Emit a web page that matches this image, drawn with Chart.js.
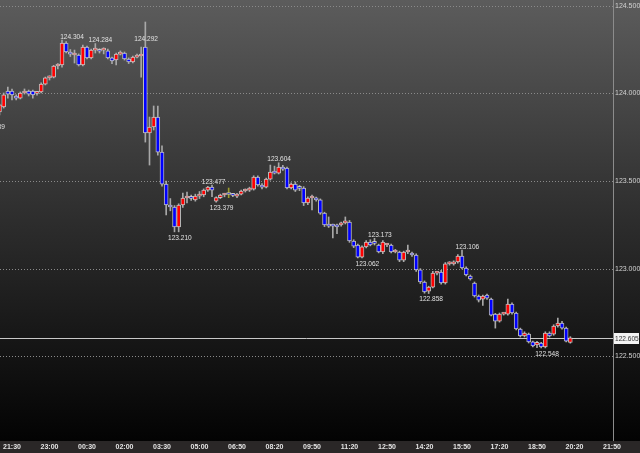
<!DOCTYPE html>
<html>
<head>
<meta charset="utf-8">
<script src="https://cdn.jsdelivr.net/npm/chart.js@4.4.0/dist/chart.umd.min.js"></script>
<style>
  html, body { margin: 0; padding: 0; background: #000; }
</style>
</head>
<body>
<canvas id="chart" width="640" height="453"></canvas>
<script>
// x axis labels, one every 9 bars (10 minute candles)
const timeLabels = ['21:30', '23:00', '00:30', '02:00', '03:30', '05:00', '06:50', '08:20', '09:50',
  '11:20', '12:50', '14:20', '15:50', '17:20', '18:50', '20:20', '21:50'];
const labelEvery = 9;
const firstBar = -5; // index of the first candle below

const opens = [
  123.900, 123.860, 123.894, 123.922, 124.013, 124.013, 123.985, 123.973, 124.002, 124.013,
  124.013, 124.000, 124.008, 124.053, 124.088, 124.093, 124.156, 124.162, 124.287, 124.236,
  124.219, 124.219, 124.162, 124.264, 124.202, 124.247, 124.244, 124.247, 124.242, 124.202,
  124.190, 124.224, 124.230, 124.196, 124.179, 124.207, 124.213, 124.264, 123.774, 123.808,
  123.865, 123.665, 123.482, 123.363, 123.352, 123.238, 123.363, 123.403, 123.403, 123.392,
  123.414, 123.420, 123.448, 123.465, 123.385, 123.405, 123.420, 123.425, 123.425, 123.414,
  123.425, 123.443, 123.448, 123.454, 123.523, 123.477, 123.465, 123.511, 123.557, 123.545,
  123.580, 123.574, 123.460, 123.482, 123.460, 123.460, 123.375, 123.403, 123.400, 123.392,
  123.317, 123.255, 123.245, 123.249, 123.249, 123.261, 123.266, 123.158, 123.135, 123.066,
  123.124, 123.152, 123.146, 123.135, 123.095, 123.135, 123.135, 123.095, 123.095, 123.049,
  123.095, 123.089, 123.078, 122.993, 122.924, 122.872, 122.895, 122.975, 122.981, 122.918,
  123.027, 123.027, 123.038, 123.072, 123.004, 122.958, 122.918, 122.844, 122.826, 122.850,
  122.826, 122.741, 122.701, 122.741, 122.741, 122.798, 122.747, 122.656, 122.616, 122.627,
  122.582, 122.565, 122.576, 122.553, 122.633, 122.627, 122.673, 122.690, 122.661, 122.580
];
const highs = [
  123.910, 123.900, 123.939, 124.002, 124.036, 124.025, 123.991, 124.008, 124.025, 124.019,
  124.019, 124.010, 124.060, 124.093, 124.100, 124.160, 124.170, 124.304, 124.295, 124.250,
  124.247, 124.225, 124.275, 124.270, 124.253, 124.284, 124.255, 124.260, 124.253, 124.207,
  124.230, 124.242, 124.236, 124.202, 124.213, 124.224, 124.264, 124.407, 123.865, 123.928,
  123.928, 123.700, 123.500, 123.400, 123.360, 123.370, 123.431, 123.437, 123.420, 123.425,
  123.440, 123.455, 123.470, 123.477, 123.410, 123.425, 123.430, 123.460, 123.430, 123.430,
  123.448, 123.455, 123.465, 123.530, 123.530, 123.485, 123.517, 123.591, 123.585, 123.604,
  123.590, 123.580, 123.490, 123.495, 123.475, 123.468, 123.410, 123.420, 123.408, 123.398,
  123.322, 123.295, 123.255, 123.255, 123.266, 123.295, 123.275, 123.165, 123.140, 123.130,
  123.160, 123.165, 123.173, 123.140, 123.160, 123.145, 123.140, 123.110, 123.100, 123.100,
  123.135, 123.095, 123.085, 123.000, 122.930, 122.900, 122.985, 122.985, 122.990, 123.035,
  123.040, 123.045, 123.080, 123.106, 123.010, 122.964, 122.924, 122.850, 122.850, 122.855,
  122.832, 122.745, 122.747, 122.750, 122.826, 122.805, 122.752, 122.661, 122.640, 122.633,
  122.587, 122.585, 122.580, 122.640, 122.640, 122.680, 122.718, 122.700, 122.667, 122.612
];
const lows = [
  123.839, 123.850, 123.877, 123.916, 123.973, 123.962, 123.962, 123.968, 123.996, 123.985,
  123.973, 123.990, 124.002, 124.048, 124.076, 124.088, 124.140, 124.150, 124.230, 124.210,
  124.173, 124.156, 124.156, 124.196, 124.196, 124.230, 124.230, 124.225, 124.196, 124.170,
  124.162, 124.219, 124.190, 124.170, 124.173, 124.202, 124.093, 123.722, 123.591, 123.791,
  123.648, 123.470, 123.306, 123.330, 123.210, 123.210, 123.350, 123.375, 123.390, 123.385,
  123.400, 123.410, 123.440, 123.410, 123.379, 123.400, 123.410, 123.405, 123.410, 123.405,
  123.420, 123.437, 123.440, 123.448, 123.470, 123.455, 123.460, 123.505, 123.540, 123.540,
  123.560, 123.455, 123.455, 123.440, 123.445, 123.360, 123.365, 123.335, 123.385, 123.310,
  123.240, 123.235, 123.175, 123.200, 123.243, 123.255, 123.150, 123.120, 123.062, 123.062,
  123.118, 123.130, 123.135, 123.090, 123.085, 123.125, 123.090, 123.090, 123.040, 123.040,
  123.085, 123.070, 122.985, 122.915, 122.860, 122.858, 122.890, 122.965, 122.912, 122.912,
  123.020, 123.020, 123.032, 122.998, 122.958, 122.935, 122.838, 122.810, 122.790, 122.825,
  122.730, 122.661, 122.695, 122.735, 122.735, 122.740, 122.650, 122.610, 122.610, 122.576,
  122.553, 122.550, 122.548, 122.548, 122.610, 122.620, 122.667, 122.655, 122.582, 122.575
];
const closes = [
  123.858, 123.894, 123.934, 123.991, 123.996, 123.991, 123.973, 124.002, 124.013, 123.996,
  123.991, 124.003, 124.053, 124.088, 124.090, 124.156, 124.158, 124.287, 124.236, 124.224,
  124.221, 124.162, 124.264, 124.202, 124.247, 124.249, 124.240, 124.249, 124.202, 124.185,
  124.224, 124.230, 124.196, 124.179, 124.207, 124.213, 124.219, 123.774, 123.808, 123.865,
  123.665, 123.482, 123.363, 123.352, 123.238, 123.363, 123.403, 123.405, 123.401, 123.414,
  123.416, 123.448, 123.465, 123.448, 123.405, 123.420, 123.422, 123.423, 123.418, 123.425,
  123.443, 123.445, 123.450, 123.523, 123.477, 123.465, 123.511, 123.551, 123.545, 123.580,
  123.568, 123.460, 123.482, 123.448, 123.458, 123.375, 123.403, 123.410, 123.392, 123.317,
  123.249, 123.243, 123.243, 123.238, 123.261, 123.272, 123.158, 123.129, 123.066, 123.124,
  123.152, 123.135, 123.144, 123.095, 123.152, 123.137, 123.095, 123.101, 123.049, 123.095,
  123.097, 123.078, 122.993, 122.924, 122.867, 122.895, 122.975, 122.977, 122.918, 123.027,
  123.029, 123.038, 123.072, 123.004, 122.964, 122.941, 122.844, 122.821, 122.844, 122.832,
  122.735, 122.701, 122.741, 122.743, 122.798, 122.747, 122.656, 122.616, 122.633, 122.582,
  122.559, 122.580, 122.553, 122.633, 122.616, 122.673, 122.690, 122.661, 122.587, 122.605
];

const priceTicks = [122.5, 123.0, 123.5, 124.0, 124.5];
const lastPrice = 122.605;
const markedBars = [52]; // the olive wick

// high / low captions: bar position, value, side
const noteAt = [-4.56, 14.4, 21.2, 32.2, 40.3, 48.4, 50.3, 64.1, 85.3, 88.3, 100.6, 109.3, 128.4];
const noteValues = [123.839, 124.304, 124.284, 124.292, 123.210, 123.477, 123.379, 123.604, 123.062, 123.173, 122.858, 123.106, 122.548];
const noteSides = ['low', 'high', 'high', 'high', 'low', 'high', 'low', 'high', 'low', 'high', 'low', 'high', 'low'];

const smallFont = '"Liberation Sans", Arial, sans-serif';

const bodies = opens.map((o, i) => ({ x: firstBar + i, y: [o, closes[i]] }));
const wicks = lows.map((l, i) => ({ x: firstBar + i, y: [l, highs[i]] }));
const bodyColors = opens.map((o, i) => closes[i] >= o ? '#ff0000' : '#0000ff');
const wickColors = wicks.map(w => markedBars.includes(w.x) ? '#9c9c2c' : '#a8a8a8');

// narrow text, like the terminal's small font
function narrowText(c, text, x, y, squeeze) {
  c.save();
  c.translate(x, y);
  c.scale(squeeze, 1);
  c.fillText(text, 0, 0);
  c.restore();
}

const backdrop = {
  id: 'backdrop',
  beforeDraw(chart) {
    const c = chart.ctx, a = chart.chartArea;
    const g = c.createLinearGradient(0, 0, 0, a.bottom);
    g.addColorStop(0, '#5c5c5c');
    g.addColorStop(0.5, '#2d2d2d');
    g.addColorStop(1, '#030303');
    c.save();
    c.fillStyle = g;
    c.fillRect(0, 0, chart.width, a.bottom);
    c.fillStyle = '#2a2727';
    c.fillRect(0, a.bottom, chart.width, chart.height - a.bottom);
    c.restore();
  },
  beforeDatasetsDraw(chart) {
    const c = chart.ctx, a = chart.chartArea, y = chart.scales.y;
    c.save();
    c.strokeStyle = '#8a8a8a';
    c.lineWidth = 1;
    c.setLineDash([1, 2]);
    priceTicks.forEach(p => {
      const py = Math.round(y.getPixelForValue(p)) + 0.5;
      c.beginPath(); c.moveTo(a.left, py); c.lineTo(a.right, py); c.stroke();
    });
    c.setLineDash([]);
    c.strokeStyle = '#8c8c8c';
    c.beginPath(); c.moveTo(a.right + 0.5, 0); c.lineTo(a.right + 0.5, a.bottom); c.stroke();
    const ly = Math.round(y.getPixelForValue(lastPrice)) + 0.5;
    c.strokeStyle = '#c8c8c8';
    c.beginPath(); c.moveTo(a.left, ly); c.lineTo(a.right, ly); c.stroke();
    c.restore();
  },
  afterDatasetsDraw(chart) {
    const c = chart.ctx, a = chart.chartArea, x = chart.scales.x, y = chart.scales.y;
    c.save();
    c.font = '8px ' + smallFont;
    c.textAlign = 'center';
    c.textBaseline = 'middle';
    c.fillStyle = '#e2e2e2';
    noteValues.forEach((v, i) => {
      const py = y.getPixelForValue(v) + (noteSides[i] === 'high' ? -3.5 : 5.5);
      narrowText(c, v.toFixed(3), x.getPixelForValue(noteAt[i]), py, 0.82);
    });
    // current price box
    const ly = Math.round(y.getPixelForValue(lastPrice));
    c.fillStyle = '#f4f4f4';
    c.fillRect(a.right + 1, ly - 5, 25, 11);
    c.fillStyle = '#333333';
    c.textAlign = 'left';
    narrowText(c, lastPrice.toFixed(3), a.right + 2, ly + 0.5, 0.82);
    c.restore();
  }
};

new Chart(document.getElementById('chart'), {
  type: 'bar',
  data: {
    datasets: [
      {
        data: bodies,
        backgroundColor: bodyColors,
        borderColor: 'rgba(215,215,215,0.8)',
        borderWidth: 1,
        borderSkipped: false,
        barThickness: 4,
        minBarLength: 2,
        grouped: false,
        order: 0
      },
      {
        data: wicks,
        backgroundColor: wickColors,
        barThickness: 1,
        grouped: false,
        order: 1
      }
    ]
  },
  options: {
    responsive: false,
    animation: false,
    devicePixelRatio: 1,
    layout: { padding: 0 },
    plugins: { legend: { display: false }, tooltip: { enabled: false } },
    scales: {
      x: {
        type: 'linear',
        offset: false,
        min: -2.88,
        max: 144.24,
        grid: { display: false, drawTicks: false, offset: false },
        border: { display: false },
        afterBuildTicks: s => { s.ticks = timeLabels.map((t, i) => ({ value: i * labelEvery })); },
        afterFit: s => { s.height = 12; s.paddingLeft = 0; s.paddingRight = 0; },
        ticks: {
          autoSkip: false,
          maxRotation: 0,
          padding: 2,
          color: '#e4e4e4',
          font: { family: smallFont, size: 7, weight: 'bold' },
          callback: (v, i) => timeLabels[i]
        }
      },
      y: {
        position: 'right',
        min: 122.017,
        max: 124.5325,
        grid: { display: false, drawTicks: false },
        border: { display: false },
        afterBuildTicks: s => { s.ticks = priceTicks.map(p => ({ value: p })); },
        afterFit: s => { s.width = 27; s.paddingTop = 0; s.paddingBottom = 0; },
        ticks: {
          padding: 2,
          color: '#d2d2d2',
          font: { family: smallFont, size: 7 },
          callback: v => v.toFixed(3)
        }
      }
    }
  },
  plugins: [backdrop]
});
</script>
</body>
</html>
